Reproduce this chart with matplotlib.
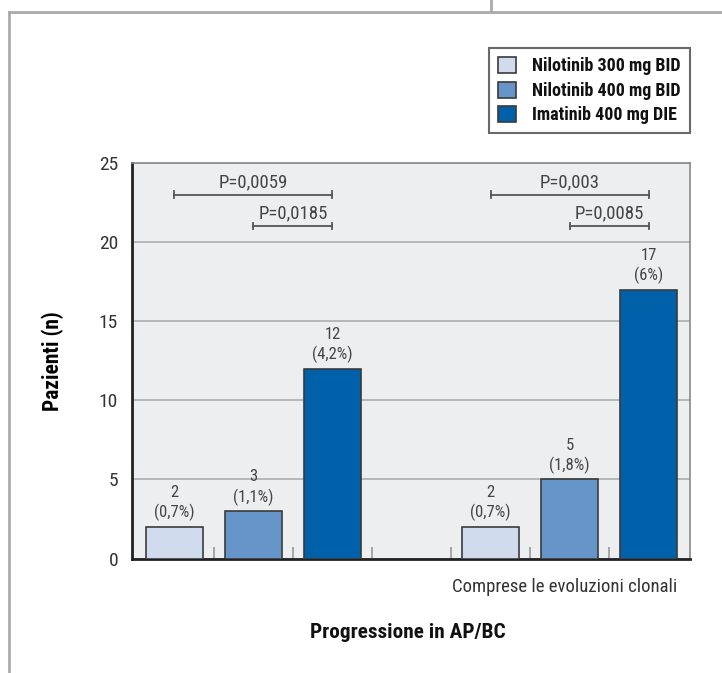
import numpy as np
import matplotlib
matplotlib.use('Agg')
import matplotlib.pyplot as plt
from matplotlib.lines import Line2D
from matplotlib import font_manager

# pick a narrow font if one is around
names = {f.name for f in font_manager.fontManager.ttflist}
fam = [n for n in ['Roboto Condensed', 'Liberation Sans Narrow', 'Roboto'] if n in names]
plt.rcParams['font.family'] = fam + ['DejaVu Sans']

# data
series = ['Nilotinib 300 mg BID', 'Nilotinib 400 mg BID', 'Imatinib 400 mg DIE']
colors = ['#d0dcee', '#6595c9', '#0060a9']
group1_vals = [2, 3, 12]
group1_pct = ['0,7%', '1,1%', '4,2%']
group2_vals = [2, 5, 17]
group2_pct = ['0,7%', '1,8%', '6%']
pvals1 = [('P=0,0059', 0, 2, 23.0), ('P=0,0185', 1, 2, 21.0)]
pvals2 = [('P=0,003', 0, 2, 23.0), ('P=0,0085', 1, 2, 21.0)]

fig = plt.figure(figsize=(7.22, 6.73), dpi=100)
ax = fig.add_axes([0.1828, 0.170, 0.7729, 0.5878])
ax.set_facecolor('#edeef0')

x1 = np.arange(3)
x2 = np.arange(3) + 4
txtcol = '#444444'
for xs, vals, pcts in [(x1, group1_vals, group1_pct), (x2, group2_vals, group2_pct)]:
    for i in range(3):
        ax.bar(xs[i], vals[i], width=0.72, color=colors[i], edgecolor='#3a3a3a',
               linewidth=1.2, zorder=3, label=series[i] if xs is x1 else None)
        ax.text(xs[i], vals[i] + 0.35, f'{vals[i]}\n({pcts[i]})', ha='center', va='bottom',
                fontsize=12, color=txtcol, linespacing=1.3, zorder=4)

# p-value brackets
for xs, pv in [(x1, pvals1), (x2, pvals2)]:
    for label, a, b, y in pv:
        ax.plot([xs[a], xs[b]], [y, y], color='#555555', lw=1.3, zorder=4)
        for xx in (xs[a], xs[b]):
            ax.plot([xx, xx], [y - 0.2, y + 0.2], color='#555555', lw=1.3, zorder=4)
        ax.text((xs[a] + xs[b]) / 2, y + 0.22, label, ha='center', va='bottom',
                fontsize=13.5, color=txtcol, zorder=4)

ax.set_xlim(-0.535, 6.52)
ax.set_ylim(0, 25)
ax.set_yticks([0, 5, 10, 15, 20, 25])
ax.set_yticklabels(['0', '5', '10', '15', '20', '25'], fontsize=14, color='#333333')
ax.yaxis.grid(True, color='#a8a8ab', lw=1.1, zorder=1)
ax.set_axisbelow(True)
ax.tick_params(axis='y', length=0, pad=10)
ax.set_xticks([0.5, 1.5, 2.5, 3.5, 4.5, 5.5])
ax.set_xticklabels([])
ax.tick_params(axis='x', direction='in', length=9, width=1.2, color='#999999')
ax.spines['left'].set_linewidth(2)
ax.spines['left'].set_color('#222222')
ax.spines['bottom'].set_linewidth(2)
ax.spines['bottom'].set_color('#222222')
ax.spines['top'].set_color('#888888')
ax.spines['right'].set_color('#888888')
ax.spines['top'].set_linewidth(1.2)
ax.spines['right'].set_linewidth(1.2)

ax.set_ylabel('Pazienti (n)', fontsize=15.5, fontweight='bold')
ax.yaxis.set_label_coords(-0.122, 0.5)
fig.text(565 / 722, 1 - 587 / 673, 'Comprese le evoluzioni clonali', ha='center', va='center',
         fontsize=13.5, color='#333333')
fig.text(408 / 722, 1 - 632 / 673, 'Progressione in AP/BC', ha='center', va='center',
         fontsize=15.3, fontweight='bold', color='#111111')

leg = fig.legend(loc='upper right', bbox_to_anchor=(690 / 722, 1 - 48 / 673), fancybox=False,
                 edgecolor='#444444', fontsize=13, handlelength=1.0, handleheight=1.0,
                 borderpad=0.5, labelspacing=0.35, handletextpad=0.9, borderaxespad=0)
leg.get_frame().set_linewidth(1.5)
for t in leg.get_texts():
    t.set_fontweight('bold')
    t.set_color('#111111')

# outer frame lines
fcol = '#aaaaae'
fig.add_artist(Line2D([9 / 722, 1], [1 - 12 / 673, 1 - 12 / 673], color=fcol, lw=2))
fig.add_artist(Line2D([9 / 722, 9 / 722], [0, 1 - 12 / 673], color=fcol, lw=2))
fig.add_artist(Line2D([491 / 722, 491 / 722], [1 - 12 / 673, 1], color=fcol, lw=2))

fig.savefig('out.png', dpi=100)
